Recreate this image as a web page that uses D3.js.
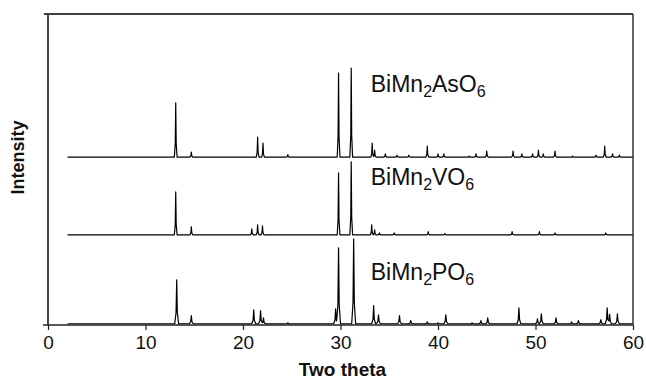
<!DOCTYPE html>
<html>
<head>
<meta charset="utf-8">
<script src="https://cdn.jsdelivr.net/npm/d3@7"></script>
<style>
  body { margin: 0; background: #fff; }
  svg { display: block; font-family: "Liberation Sans", Arial, sans-serif; }
</style>
</head>
<body>
<div id="chart"></div>
<script>
// x axis ticks (two theta, degrees)
const xTicks = [0, 10, 20, 30, 40, 50, 60];
const scanRange = [2, 60];

// compound labels: [formula part, subscript, formula part, subscript]
const labelParts = [
  ["BiMn", "2", "AsO", "6"],
  ["BiMn", "2", "VO", "6"],
  ["BiMn", "2", "PO", "6"]
];
// vertical offset of each pattern (arbitrary intensity units)
const offsets = [54, 29, 0.4];

// peaks: [two theta, intensity]
const asPeaks = [
  [13.1, 17.4], [14.7, 1.6], [21.5, 6.4], [22.05, 4.5], [24.6, 0.8],
  [29.8, 27.0], [31.1, 28.6], [33.25, 4.5], [33.5, 2.2], [34.6, 1.0],
  [35.8, 0.6], [37.0, 0.6], [38.9, 3.5], [40.0, 1.0], [40.6, 1.0],
  [43.2, 0.3], [43.9, 1.0], [45.0, 1.9], [47.7, 1.9], [48.6, 1.0],
  [49.7, 1.0], [50.3, 2.2], [50.8, 1.0], [52.0, 1.9], [53.8, 0.3],
  [56.2, 0.6], [57.1, 3.5], [57.9, 1.0], [58.6, 0.6]
];
const vPeaks = [
  [13.1, 13.8], [14.7, 2.6], [20.9, 1.9], [21.5, 3.2], [22.0, 2.9],
  [29.8, 19.9], [31.1, 23.5], [33.2, 3.2], [33.5, 1.6], [34.0, 0.6],
  [35.5, 0.6], [39.0, 1.0], [40.7, 0.4], [47.6, 1.0], [50.4, 1.0],
  [52.0, 0.6], [57.2, 0.6]
];
const pPeaks = [
  [13.2, 14.1], [14.7, 2.6], [21.1, 4.5], [21.8, 4.2], [22.1, 1.9],
  [24.6, 0.3], [29.5, 4.8], [29.8, 24.4], [31.35, 27.3], [33.4, 5.8],
  [33.9, 2.9], [36.05, 2.6], [37.2, 1.0], [38.9, 0.6], [40.0, 0.3],
  [40.8, 2.9], [43.5, 0.3], [44.4, 1.0], [45.1, 1.9], [48.3, 5.1],
  [50.2, 1.6], [50.6, 3.2], [52.1, 1.9], [53.7, 0.6], [54.4, 1.0],
  [56.7, 1.3], [57.35, 5.1], [57.6, 3.0], [58.4, 3.2]
];
const allPeaks = [asPeaks, vPeaks, pPeaks];
const peakWidths = [0.14, 0.14, 0.2];

const W = 646, H = 381;
const margin = { top: 14, right: 13, bottom: 56, left: 48 };
const width = W - margin.left - margin.right;
const height = H - margin.top - margin.bottom;

const svg = d3.select("#chart").append("svg")
  .attr("width", W).attr("height", H);
const g = svg.append("g")
  .attr("transform", `translate(${margin.left},${margin.top})`);

const x = d3.scaleLinear().domain([0, 60]).range([0, width]);
const y = d3.scaleLinear().domain([0, 100]).range([height, 0]);

// peak profile: sharp tip, wider foot
const shape = (u) => {
  if (u >= 1) return 0;
  if (u <= 1 / 3) return 1 - 0.75 * u * 3;
  return 0.25 * (1 - u) / (2 / 3);
};

const buildTrace = (peaks, offset, hw) => {
  let xs = [scanRange[0], scanRange[1]];
  peaks.forEach(([p]) => {
    xs.push(p - hw, p - hw / 3, p, p + hw / 3, p + hw);
  });
  xs = Array.from(new Set(xs)).sort((a, b) => a - b);
  return xs.map((t) => ({
    t: t,
    v: offset + d3.sum(peaks, ([p, h]) => h * shape(Math.abs(t - p) / hw))
  }));
};

const line = d3.line()
  .x((d) => x(d.t))
  .y((d) => y(d.v));

allPeaks.forEach((peaks, i) => {
  g.append("path")
    .datum(buildTrace(peaks, offsets[i], peakWidths[i]))
    .attr("fill", "none")
    .attr("stroke", "#000")
    .attr("stroke-width", 1.2)
    .attr("stroke-linejoin", "round")
    .attr("d", line);
});

// frame
g.append("line")
  .attr("x1", -4).attr("x2", width)
  .attr("y1", 0).attr("y2", 0)
  .attr("stroke", "#000").attr("stroke-width", 1.5);
g.append("line")
  .attr("x1", width).attr("x2", width)
  .attr("y1", 0).attr("y2", height)
  .attr("stroke", "#333").attr("stroke-width", 1.5);
g.append("line")
  .attr("x1", 0).attr("x2", 0)
  .attr("y1", 0).attr("y2", height)
  .attr("stroke", "#444").attr("stroke-width", 2);

// x axis
const xAxis = g.append("g")
  .attr("transform", `translate(0,${height})`)
  .call(d3.axisBottom(x).tickValues(xTicks).tickSize(5).tickPadding(6).tickSizeOuter(0));
xAxis.select(".domain")
  .attr("d", `M-5,0H${width}`)
  .attr("stroke", "#222").attr("stroke-width", 1.5);
xAxis.selectAll(".tick line").attr("stroke", "#222").attr("stroke-width", 1.2);
xAxis.selectAll(".tick text")
  .attr("fill", "#111")
  .style("font-size", "19px")
  .style("font-family", "'Liberation Sans', Arial, sans-serif");

// axis titles
g.append("text")
  .attr("x", width / 2 + 2)
  .attr("y", height + 51)
  .attr("text-anchor", "middle")
  .style("font-size", "19px")
  .style("font-weight", "bold")
  .attr("fill", "#111")
  .text("Two theta");

g.append("text")
  .attr("transform", `translate(${-24},${height / 2 - 12}) rotate(-90)`)
  .attr("text-anchor", "middle")
  .style("font-size", "18px")
  .style("font-weight", "bold")
  .attr("fill", "#111")
  .text("Intensity");

// compound labels
const labelY = [75, 45, 14.5];
labelParts.forEach((parts, i) => {
  const t = g.append("text")
    .attr("x", x(33.1))
    .attr("y", y(labelY[i]))
    .style("font-size", "23px")
    .attr("fill", "#111");
  t.append("tspan").text(parts[0]);
  t.append("tspan").attr("dy", 5).style("font-size", "16px").text(parts[1]);
  t.append("tspan").attr("dy", -5).text(parts[2]);
  t.append("tspan").attr("dy", 5).style("font-size", "16px").text(parts[3]);
});
</script>
</body>
</html>
